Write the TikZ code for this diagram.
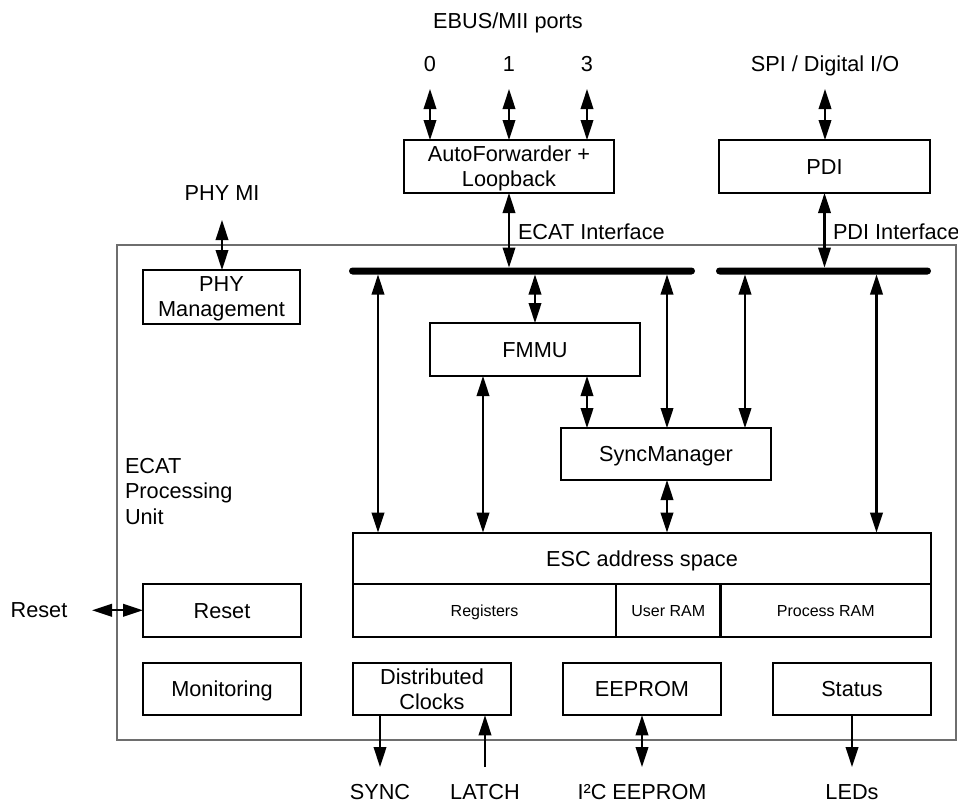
\documentclass[tikz,border=0pt]{standalone}
\usepackage{fontspec}
\setmainfont{Liberation Sans}
\usetikzlibrary{arrows.meta}
\newcommand{\bigsz}{\fontsize{21.7}{25}\selectfont}
\newcommand{\smallsz}{\fontsize{16}{19}\selectfont}
\definecolor{framegray}{RGB}{110,110,110}
\begin{document}
\begin{tikzpicture}[x=1pt,y=-1pt,
  >={Triangle[length=20pt,width=12.5pt]},
  box/.style={draw, line width=2.2pt, inner sep=0pt, outer sep=0pt, align=center, font=\bigsz},
  one/.style={box, text height=15.5pt, text depth=0pt},
  two/.style={box, text depth=0pt},
  cell/.style={draw, line width=2.2pt, inner sep=0pt, outer sep=0pt, font=\smallsz, text height=11.5pt, text depth=0pt},
  lbl/.style={inner sep=0pt, outer sep=0pt, font=\bigsz, anchor=base},
  lblw/.style={lbl, anchor=base west},
  busbar/.style={fill=black, inner sep=0pt, outer sep=0pt, minimum height=7pt, rounded corners=3.5pt},
  dbl/.style={line width=2.2pt, <->},
  down/.style={line width=2.2pt, ->},
]
\useasboundingbox (0,0) rectangle (958,803);
% outer frame
\node[draw=framegray, line width=1.3pt, inner sep=0pt, minimum width=839pt, minimum height=495pt] (ecat) at (536.5,492.5) {};

% boxes
\node[two, minimum width=210pt, minimum height=53pt] (af) at (509,166.5) {AutoForwarder +\\Loopback};
\node[one, minimum width=211pt, minimum height=53pt] (pdi) at (824.5,166.5) {PDI};
\node[two, minimum width=157pt, minimum height=54pt] (phy) at (221.5,297) {PHY\\Management};
\node[one, minimum width=210pt, minimum height=53pt] (fmmu) at (535,349.5) {FMMU};
\node[one, minimum width=210pt, minimum height=52pt] (sm) at (666,454) {SyncManager};
\node[one, minimum width=578pt, minimum height=51.3pt] (esc) at (642,558.3) {ESC address space};
\node[cell, minimum width=263pt, minimum height=52.7pt] (reg) at (484.5,610.3) {Registers};
\node[cell, minimum width=104.5pt, minimum height=52.7pt] (uram) at (668.25,610.3) {User RAM};
\node[cell, minimum width=210.5pt, minimum height=52.7pt] (pram) at (825.75,610.3) {Process RAM};
\node[one, minimum width=158pt, minimum height=52.7pt] (reset) at (222,610.3) {Reset};
\node[one, minimum width=158pt, minimum height=52.5pt] (mon) at (222,689) {Monitoring};
\node[two, minimum width=158pt, minimum height=52.5pt] (dc) at (432,689) {Distributed\\Clocks};
\node[one, minimum width=158pt, minimum height=52.5pt] (eeprom) at (642,689) {EEPROM};
\node[one, minimum width=158pt, minimum height=52.5pt] (status) at (852,689) {Status};

% buses
\node[busbar, minimum width=346pt] (bus1) at (522,271) {};
\node[busbar, minimum width=215pt] (bus2) at (823.5,271) {};

% labels
\node[lbl] (ebus) at (508,28.5) {EBUS/MII ports};
\node[lbl] (n0) at (430,71) {0};
\node[lbl] (n1) at (509,71) {1};
\node[lbl] (n3) at (587,71) {3};
\node[lbl] (spi) at (825,71) {SPI / Digital I/O};
\node[lbl] (phymi) at (222,200) {PHY MI};
\node[lblw] (ecatif) at (518,239.5) {ECAT Interface};
\node[lblw] (pdiif) at (833,239.5) {PDI Interface};
\node[lblw] (pu1) at (125,473) {ECAT};
\node[lblw] (pu2) at (125,498.5) {Processing};
\node[lblw] (pu3) at (125,524) {Unit};
\node[lbl] (resetl) at (39,617.7) {Reset};
\node[lbl] (sync) at (380,799.3) {SYNC};
\node[lbl] (latch) at (485,799.3) {LATCH};
\node[lbl] (i2c) at (642,799.3) {I²C EEPROM};
\node[lbl] (leds) at (852,799.3) {LEDs};

% helper coordinates
\coordinate (t0) at (430,89);
\coordinate (t1) at (509,89);
\coordinate (t3) at (587,89);
\coordinate (tspi) at (825,89);
\coordinate (tphy) at (222,220);
\coordinate (rl) at (92,610.3);
\coordinate (xa) at (378,0);
\coordinate (xc) at (667,0);
\coordinate (xd) at (745,0);
\coordinate (xe) at (876.5,0);
\coordinate (xf) at (483,0);
\coordinate (xg) at (587,0);
\coordinate (xs) at (380,0);
\coordinate (xl) at (485,0);
\coordinate (yb) at (0,767);

% connectors
\draw[dbl] (t0) -- (t0 |- af.north);
\draw[dbl] (t1) -- (t1 |- af.north);
\draw[dbl] (t3) -- (t3 |- af.north);
\draw[dbl] (tspi) -- (tspi |- pdi.north);
\draw[dbl] (af.south) -- (af.south |- bus1.north);
\draw[dbl] (pdi.south) -- (pdi.south |- bus2.north);
\draw[dbl] (tphy) -- (tphy |- phy.north);
\draw[dbl] (xa |- bus1.south) -- (xa |- esc.north);
\draw[dbl] (fmmu.north |- bus1.south) -- (fmmu.north);
\draw[dbl] (xc |- bus1.south) -- (xc |- sm.north);
\draw[dbl] (xd |- bus2.south) -- (xd |- sm.north);
\draw[dbl] (xe |- bus2.south) -- (xe |- esc.north);
\draw[dbl] (xf |- fmmu.south) -- (xf |- esc.north);
\draw[dbl] (xg |- fmmu.south) -- (xg |- sm.north);
\draw[dbl] (xc |- sm.south) -- (xc |- esc.north);
\draw[dbl] (rl) -- (reset.west);
\draw[down] (xs |- dc.south) -- (xs |- yb);
\draw[down] (xl |- yb) -- (xl |- dc.south);
\draw[dbl] (eeprom.south) -- (eeprom.south |- yb);
\draw[down] (status.south) -- (status.south |- yb);
\end{tikzpicture}
\end{document}
